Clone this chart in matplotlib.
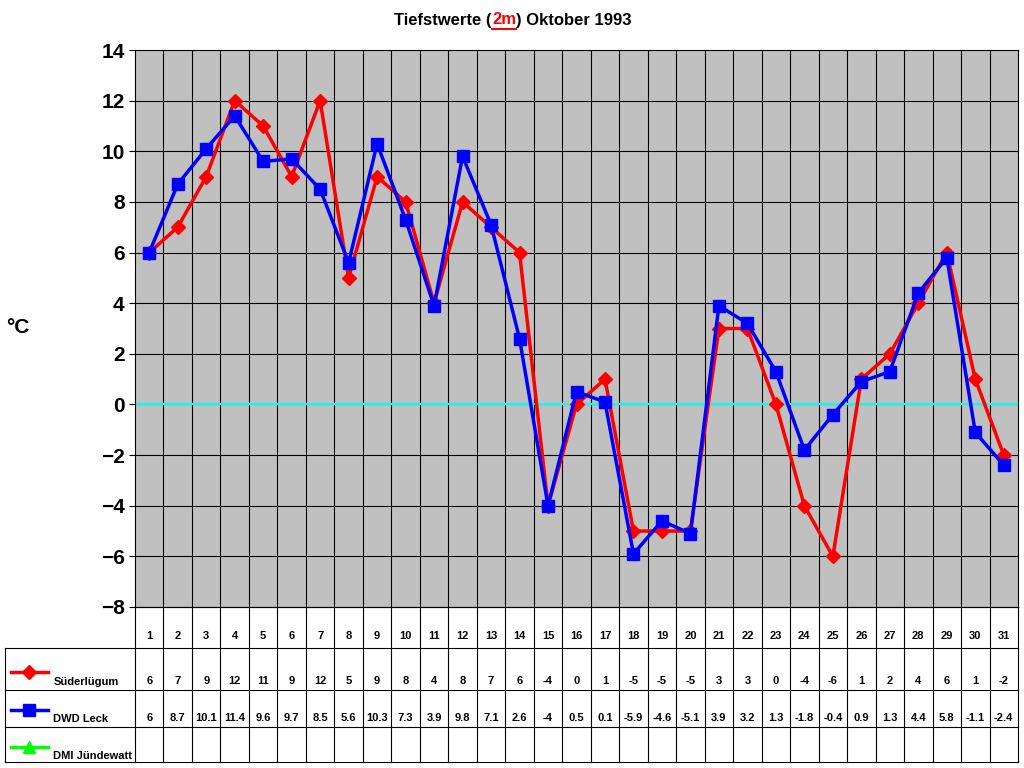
import numpy as np
import matplotlib.pyplot as plt

plt.rcParams['font.family'] = ['Liberation Sans', 'DejaVu Sans']
plt.rcParams['font.weight'] = 'bold'

days = list(range(1, 32))
suederluegum = [6, 7, 9, 12, 11, 9, 12, 5, 9, 8, 4, 8, 7, 6, -4, 0, 1, -5, -5, -5,
                3, 3, 0, -4, -6, 1, 2, 4, 6, 1, -2]
dwd_leck = [6, 8.7, 10.1, 11.4, 9.6, 9.7, 8.5, 5.6, 10.3, 7.3, 3.9, 9.8, 7.1, 2.6, -4,
            0.5, 0.1, -5.9, -4.6, -5.1, 3.9, 3.2, 1.3, -1.8, -0.4, 0.9, 1.3, 4.4, 5.8, -1.1, -2.4]
series_names = ["Süderlügum", "DWD Leck", "DMI Jündewatt"]

W, H = 1024, 768
fig = plt.figure(figsize=(W / 100, H / 100), dpi=100)
x0, x1 = 135, 1018
ax = fig.add_axes([x0 / W, 1 - 607 / H, (x1 - x0) / W, (607 - 50) / H])
ax.set_facecolor('#C0C0C0')
ax.set_xlim(0.5, 31.5)
ax.set_ylim(-8, 14)
ax.set_yticks(np.arange(-8, 15, 2))
ax.set_xticks([])
for v in np.arange(1.5, 31.5, 1):
    ax.axvline(v, color='black', lw=0.8)
for v in np.arange(-6, 14, 2):
    ax.axhline(v, color='black', lw=0.8)
ax.axhline(0, color='#00FFFF', lw=1.5, zorder=2)
ax.tick_params(axis='y', labelsize=15, length=4)
for s in ax.spines.values():
    s.set_color('black')

ax.plot(days, suederluegum, color='red', lw=2.5, marker='D', ms=7, zorder=3)
ax.plot(days, dwd_leck, color='blue', lw=2.5, marker='s', ms=8, zorder=4)
fig.text(18 / W, 1 - 328 / H, "°C", fontsize=15, ha='center', va='center')

# data table
tab = fig.add_axes([x0 / W, 1 - 762 / H, (x1 - x0) / W, (762 - 607) / H])
tab.set_xlim(0.5, 31.5)
tab.set_ylim(155, 0)
tab.axis('off')
left = 0.5 - (x0 - 5) / (x1 - x0) * 31
rows = [0, 41, 83, 120, 155]
for r in rows[1:]:
    tab.plot([left, 31.5], [r, r], color='black', lw=0.8, clip_on=False)
tab.plot([0.5, 31.5], [0, 0], color='black', lw=0.8, clip_on=False)
tab.plot([left, left], [rows[1], 155], color='black', lw=0.8, clip_on=False)
for v in np.arange(0.5, 32, 1):
    tab.plot([v, v], [0, 155], color='black', lw=0.8, clip_on=False)
for d in days:
    tab.text(d, 29, str(d), ha='center', va='center', fontsize=8)
    tab.text(d, 74, f"{suederluegum[d - 1]:g}", ha='center', va='center', fontsize=8)
    tab.text(d, 111, f"{dwd_leck[d - 1]:g}", ha='center', va='center', fontsize=8)
styles = [('red', 'D', 7), ('blue', 's', 8), ('#00FF00', '^', 8)]
mid = [65, 103, 140]
lab = [75, 112, 149]
for (c, m, ms), y, yl, name in zip(styles, mid, lab, series_names):
    tab.plot([left + 0.2, left + 1.5], [y, y], color=c, lw=2.5, clip_on=False)
    tab.plot([left + 0.85], [y], color=c, marker=m, ms=ms, clip_on=False)
    tab.text(left + 1.7, yl, name, fontsize=8, va='center', ha='left')

# title with red underlined "2m"
parts = [("Tiefstwerte (", 'black'), ("2m", 'red'), (") Oktober 1993", 'black')]
r = fig.canvas.get_renderer()
objs = [fig.text(0, 1 - 20 / H, t, color=c, fontsize=12, va='center') for t, c in parts]
widths = [o.get_window_extent(r).width for o in objs]
xs = 513 - sum(widths) / 2
for o, w in zip(objs, widths):
    o.set_x(xs / W)
    if o.get_text() == "2m":
        fig.add_artist(plt.Line2D([xs / W, (xs + w) / W], [1 - 29 / H] * 2, color='red', lw=1.5))
    xs += w

fig.savefig("out.png", dpi=100)
